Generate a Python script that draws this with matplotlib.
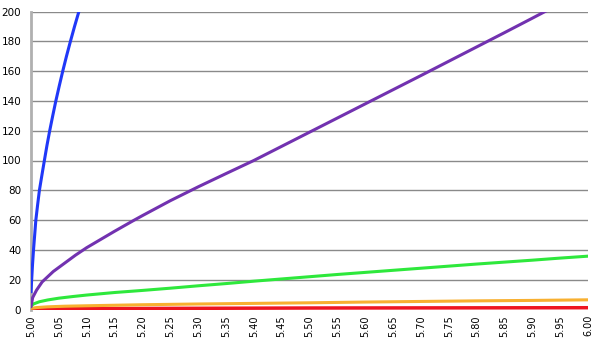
import matplotlib; matplotlib.use("Agg")
import matplotlib.pyplot as plt
import numpy as np

# values
blue_x   = [5.0000, 5.0012, 5.0027, 5.0045, 5.0066, 5.0087, 5.0118, 5.0151, 5.0195, 5.0240,
            5.0286, 5.0336, 5.0390, 5.0446, 5.0507, 5.0570, 5.0637, 5.0708, 5.0782, 5.0860,
            5.0940, 5.1025]
blue_y   = [12, 20, 30, 40, 50, 60, 70, 80, 90, 100,
            110, 120, 130, 140, 150, 160, 170, 180, 190, 200,
            210, 220]

purple_x = [5.000, 5.003, 5.010, 5.020, 5.030, 5.040, 5.060, 5.080, 5.100, 5.125, 5.150, 5.183,
            5.20, 5.25, 5.30, 5.35, 5.40, 5.45, 5.50, 5.55, 5.60, 5.65, 5.70, 5.75, 5.80,
            5.85, 5.90, 5.95, 6.00]
purple_y = [2, 8, 13, 18.5, 22, 25.5, 31, 36.5, 41.5, 47, 52.5, 59.5,
            63, 73, 82.3, 91.2, 100, 109.5, 119, 128.5, 138, 147.5, 157, 166.6, 176.2,
            185.8, 195.5, 205.3, 215]

green_x  = [5.00, 5.005, 5.015, 5.03, 5.05, 5.075, 5.10, 5.15, 5.20, 5.25, 5.30, 5.35, 5.40,
            5.45, 5.50, 5.55, 5.60, 5.65, 5.70, 5.75, 5.80, 5.85, 5.90, 5.95, 6.00]
green_y  = [2.5, 3.8, 5.2, 6.4, 7.6, 8.7, 9.7, 11.4, 12.8, 14.3, 15.9, 17.4, 19,
            20.5, 22, 23.5, 24.9, 26.3, 27.7, 29.1, 30.5, 31.8, 33.1, 34.5, 35.8]

orange_x = [5.00, 5.01, 5.03, 5.06, 5.10, 5.20, 5.30, 5.40, 5.50, 5.60, 5.70, 5.80, 5.90, 6.00]
orange_y = [0.8, 1.3, 1.8, 2.2, 2.5, 3.2, 3.7, 4.1, 4.5, 5.0, 5.4, 5.8, 6.1, 6.5]

red_x    = [5.00, 5.10, 5.30, 5.50, 5.75, 6.00]
red_y    = [0.3, 0.6, 0.8, 1.0, 1.1, 1.2]

xticks = np.round(np.arange(5.0, 6.0001, 0.05), 2)
yticks = list(range(0, 201, 20))

plt.rcParams["font.family"] = ["DejaVu Sans"]
fig = plt.figure(figsize=(6, 3.4), dpi=100)
ax = fig.add_axes([31/600, 1 - 309.5/340, (588 - 31)/600, (309.5 - 11.5)/340])

for yv in yticks[1:]:
    ax.axhline(yv, color="#8a8a8a", lw=1.0, zorder=1)

ax.plot(red_x, red_y, color="#ee1520", lw=2.5, zorder=3)
ax.plot(orange_x, orange_y, color="#f8b030", lw=2.2, zorder=3)
ax.plot(green_x, green_y, color="#2ee83c", lw=2.2, zorder=3)
ax.plot(purple_x, purple_y, color="#7232b0", lw=2.2, zorder=3)
ax.plot(blue_x, blue_y, color="#2038f8", lw=2.2, zorder=3)

ax.set_xlim(5.0, 6.0); ax.set_ylim(0, 200)
ax.set_xticks(xticks); ax.set_xticklabels([f"{t:.2f}" for t in xticks], rotation=90, fontsize=7)
ax.set_yticks(yticks); ax.set_yticklabels([str(t) for t in yticks], fontsize=7.5)
ax.tick_params(axis="x", length=0, pad=4)
ax.tick_params(axis="y", length=0, pad=7)
for s in ["top", "right", "bottom"]:
    ax.spines[s].set_visible(False)
ax.spines["left"].set_color("#b0b0b0"); ax.spines["left"].set_linewidth(2)

fig.savefig("out.png", dpi=100)
